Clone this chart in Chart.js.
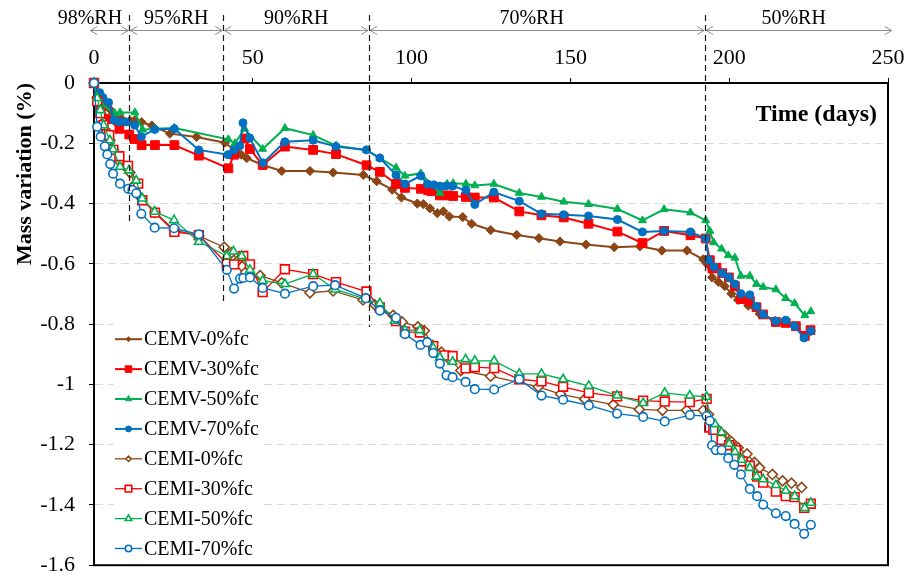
<!DOCTYPE html>
<html>
<head>
<meta charset="utf-8">
<title>Mass variation</title>
<script src="https://cdn.jsdelivr.net/npm/chart.js@4.4.1/dist/chart.umd.min.js"></script>
<style>
  html, body { margin: 0; padding: 0; background: #fff; }
  #wrap { width: 915px; height: 588px; }
</style>
</head>
<body>
<div id="wrap"><canvas id="massChart" width="915" height="588"></canvas></div>
<script>
// mass variation (%) against time (days), [day, value]
const cemv0 = [[0,0],[1.3,-0.038],[3,-0.06],[4.9,-0.086],[6,-0.102],[8.6,-0.118],[11.3,-0.125],[12.8,-0.124],[15,-0.13],[18.2,-0.141],[23.9,-0.168],[32.3,-0.179],[41.2,-0.198],[44.8,-0.227],[46.4,-0.238],[48.1,-0.249],[53.1,-0.272],[59.1,-0.292],[68,-0.292],[75.3,-0.297],[84.8,-0.305],[89,-0.326],[93.9,-0.354],[96.8,-0.38],[101.8,-0.4],[103.7,-0.402],[105.8,-0.416],[108.1,-0.432],[110,-0.426],[111.9,-0.443],[116.1,-0.445],[118.9,-0.467],[124.9,-0.488],[133.1,-0.504],[140.1,-0.515],[146.7,-0.526],[154.9,-0.536],[163.8,-0.545],[171.9,-0.542],[178.8,-0.556],[186.7,-0.556],[191.8,-0.585],[192.9,-0.599],[194.6,-0.645],[196.6,-0.66],[198.6,-0.674],[200.7,-0.699],[202.8,-0.72],[206,-0.739],[209.6,-0.766],[214.4,-0.789],[217.8,-0.793],[220.6,-0.807],[223.8,-0.843],[225.7,-0.823]];
const cemv30 = [[0,0],[1.9,-0.066],[4.5,-0.12],[8,-0.152],[11.1,-0.171],[12.7,-0.186],[15,-0.206],[19.2,-0.206],[25.3,-0.206],[33,-0.241],[42.3,-0.283],[44.1,-0.238],[47.5,-0.184],[49.1,-0.219],[53.1,-0.272],[60.1,-0.211],[69,-0.222],[76.2,-0.236],[85.8,-0.273],[90,-0.295],[95.1,-0.335],[97.9,-0.348],[102.9,-0.351],[105.2,-0.356],[106.3,-0.359],[108.9,-0.373],[111.5,-0.373],[113.1,-0.375],[117.1,-0.378],[119.9,-0.38],[125.9,-0.38],[133.9,-0.426],[140.9,-0.439],[147.9,-0.446],[155.7,-0.467],[164.8,-0.493],[172.7,-0.531],[179.5,-0.491],[187.8,-0.505],[192.6,-0.516],[193.9,-0.588],[194.7,-0.615],[196,-0.613],[197.8,-0.631],[199.9,-0.645],[201.8,-0.674],[203.7,-0.717],[206.5,-0.723],[208.6,-0.744],[210.7,-0.768],[214.7,-0.793],[217.8,-0.796],[221,-0.807],[223.8,-0.839],[225.6,-0.82]];
const cemv50 = [[0,0],[2.3,-0.07],[6.5,-0.1],[8.2,-0.098],[12.9,-0.098],[15.3,-0.155],[19.2,-0.152],[25.3,-0.149],[42.3,-0.187],[44.4,-0.2],[47.4,-0.152],[53.1,-0.219],[60.1,-0.15],[69,-0.173],[76.2,-0.208],[85.8,-0.223],[90,-0.249],[95.1,-0.281],[97.9,-0.308],[102.9,-0.3],[108.9,-0.365],[111.2,-0.335],[113.1,-0.333],[117.1,-0.335],[119.9,-0.34],[125.9,-0.335],[133.9,-0.365],[140.9,-0.378],[147.9,-0.394],[155.7,-0.402],[164.8,-0.418],[172.7,-0.456],[179.5,-0.419],[187.8,-0.43],[192.6,-0.456],[193.9,-0.491],[195.1,-0.529],[197.6,-0.55],[199.7,-0.572],[201.8,-0.58],[203.7,-0.64],[206.5,-0.64],[208.6,-0.667],[210.7,-0.677],[214.7,-0.685],[217.8,-0.714],[220.6,-0.731],[223.8,-0.771],[225.7,-0.758]];
const cemv70 = [[0,0],[1.8,-0.032],[2.8,-0.048],[4.6,-0.065],[6.3,-0.124],[8.1,-0.129],[10.2,-0.129],[12.8,-0.14],[14.9,-0.178],[19.1,-0.154],[25.3,-0.152],[33,-0.222],[42.2,-0.238],[44.1,-0.222],[45.9,-0.208],[46.9,-0.132],[49,-0.182],[53.2,-0.265],[60.1,-0.195],[69,-0.19],[76.2,-0.211],[85.8,-0.222],[90,-0.249],[95.1,-0.305],[97.9,-0.335],[102.9,-0.308],[105,-0.335],[107,-0.338],[108.9,-0.342],[110.8,-0.342],[112.9,-0.342],[117.1,-0.356],[119.9,-0.403],[125.9,-0.362],[133.9,-0.392],[140.9,-0.434],[147.9,-0.437],[155.7,-0.441],[164.8,-0.453],[172.7,-0.494],[179.5,-0.491],[187.8,-0.494],[192.6,-0.516],[193.6,-0.588],[195.2,-0.61],[197.8,-0.631],[199.9,-0.645],[201.8,-0.667],[203.7,-0.699],[206.5,-0.703],[208.6,-0.742],[210.7,-0.768],[214.7,-0.79],[217.8,-0.787],[220.6,-0.807],[223.6,-0.846],[225.7,-0.823]];
const cemi0 = [[0,0],[1,-0.05],[2,-0.09],[3,-0.13],[4,-0.16],[5,-0.19],[6,-0.22],[8,-0.26],[11.3,-0.297],[12.9,-0.335],[15,-0.383],[19.2,-0.429],[25.3,-0.488],[33,-0.507],[41,-0.545],[43.3,-0.563],[45.4,-0.588],[46.7,-0.609],[47.7,-0.628],[52.3,-0.639],[59.1,-0.663],[68,-0.696],[75.3,-0.69],[84.7,-0.72],[88.4,-0.736],[94.2,-0.771],[97,-0.793],[102,-0.809],[104,-0.822],[106.6,-0.871],[109.4,-0.893],[111.9,-0.917],[115.5,-0.954],[124.9,-0.973],[139.9,-1.008],[146.9,-1.032],[154.5,-1.049],[163.5,-1.067],[171.7,-1.083],[179,-1.086],[186.6,-1.086],[191.8,-1.086],[193.5,-1.1],[194.6,-1.13],[196.4,-1.15],[198.6,-1.17],[200.7,-1.19],[202.8,-1.21],[205.6,-1.231],[208,-1.259],[209.6,-1.277],[213.6,-1.299],[216.8,-1.32],[219.6,-1.328],[222.8,-1.342]];
const cemi30 = [[0,0],[1,-0.06],[2,-0.1],[3,-0.14],[4.8,-0.173],[6.1,-0.222],[8,-0.243],[10.7,-0.275],[13.9,-0.334],[15.2,-0.389],[19.2,-0.43],[25.3,-0.494],[33,-0.505],[41.8,-0.599],[44.1,-0.602],[47,-0.574],[49.1,-0.602],[53.1,-0.694],[60.1,-0.618],[69,-0.634],[76.2,-0.661],[85.8,-0.692],[90,-0.745],[95.1,-0.79],[97.9,-0.825],[102.6,-0.828],[106.8,-0.873],[110.5,-0.904],[112.9,-0.906],[117,-0.947],[119.9,-0.943],[126,-0.946],[133.9,-0.983],[140.9,-0.99],[147.7,-1.008],[155.8,-1.028],[164.7,-1.04],[172.9,-1.054],[179.7,-1.057],[187.6,-1.059],[192.9,-1.048],[193.7,-1.143],[195,-1.151],[197.6,-1.184],[200,-1.202],[202.1,-1.218],[204.2,-1.256],[206.5,-1.27],[208.8,-1.306],[210.7,-1.326],[214.7,-1.356],[217.8,-1.371],[220.6,-1.374],[223.6,-1.41],[225.7,-1.396]];
const cemi50 = [[0,0],[1,-0.05],[2,-0.09],[3,-0.14],[5,-0.19],[6,-0.22],[8.2,-0.278],[11,-0.29],[13.3,-0.324],[15.2,-0.383],[19.1,-0.427],[25.2,-0.455],[33,-0.527],[41.8,-0.574],[43.9,-0.559],[46.5,-0.574],[49.1,-0.62],[53.1,-0.656],[60.1,-0.667],[69,-0.634],[75.9,-0.685],[85.6,-0.717],[90,-0.731],[94.7,-0.789],[97.9,-0.82],[102.6,-0.82],[106.8,-0.879],[108.9,-0.911],[112.9,-0.925],[117,-0.917],[119.9,-0.922],[126,-0.922],[133.9,-0.965],[140.9,-0.965],[147.7,-0.983],[155.8,-1.005],[164.7,-1.037],[172.9,-1.062],[179.7,-1.028],[187.6,-1.037],[192.9,-1.041],[194.1,-1.121],[195.5,-1.132],[197.6,-1.159],[200,-1.197],[201.8,-1.224],[203.9,-1.25],[206.5,-1.277],[208.6,-1.306],[210.7,-1.315],[214.7,-1.334],[217.8,-1.353],[220.6,-1.371],[223.8,-1.41],[225.7,-1.393]];
const cemi70 = [[0,0],[1,-0.145],[2.1,-0.178],[3.4,-0.21],[4.2,-0.237],[5.1,-0.269],[6,-0.301],[8.2,-0.334],[10.8,-0.351],[12.1,-0.355],[13.3,-0.366],[14.9,-0.434],[19.1,-0.48],[25.2,-0.482],[33,-0.502],[41.8,-0.62],[44.1,-0.682],[46,-0.649],[47,-0.647],[49.1,-0.645],[53.1,-0.68],[60.1,-0.699],[69,-0.674],[75.9,-0.671],[85.6,-0.714],[90,-0.755],[95.1,-0.779],[97.9,-0.833],[102.8,-0.869],[104.9,-0.86],[106.8,-0.896],[108.9,-0.931],[111,-0.97],[112.9,-0.976],[117,-0.992],[119.9,-1.016],[126,-1.017],[133.9,-0.983],[140.9,-1.037],[147.7,-1.051],[155.8,-1.07],[164.7,-1.097],[172.9,-1.108],[179.7,-1.123],[187.6,-1.102],[192.9,-1.105],[193.9,-1.121],[194.6,-1.202],[195.8,-1.218],[197.6,-1.218],[199.7,-1.245],[201.6,-1.267],[203.7,-1.299],[206.5,-1.347],[208.8,-1.371],[210.7,-1.399],[214.7,-1.428],[217.8,-1.437],[220.6,-1.463],[223.6,-1.496],[225.7,-1.466]];

const seriesNames = ['CEMV-0%fc', 'CEMV-30%fc', 'CEMV-50%fc', 'CEMV-70%fc',
                     'CEMI-0%fc', 'CEMI-30%fc', 'CEMI-50%fc', 'CEMI-70%fc'];

// humidity steps: label, where the step begins (days), and how low its divider reaches
const rhLabels = ['98%RH', '95%RH', '90%RH', '70%RH', '50%RH'];
const rhStart = [-1.5, 11.1, 40.7, 86.6, 192.4];
const rhEnd = 251.5;
const rhDividerLow = [-0.47, -0.73, -0.81, -1.16];
const rhLabelAt = [-1.3, 25.9, 63.7, 137.8, 220.3];

const SERIF = "'Liberation Serif', 'Times New Roman', serif";
const BROWN = '#8c4616', RED = '#ff0000', GREEN = '#00b050', BLUE = '#0070c0';

function series(i, pts, color, style, filled, radius) {
  return {
    label: seriesNames[i],
    data: pts.map(p => ({ x: p[0], y: p[1] })),
    borderColor: color,
    backgroundColor: filled ? color : '#ffffff',
    pointBackgroundColor: filled ? color : '#ffffff',
    pointBorderColor: color,
    pointStyle: style,
    pointRadius: radius,
    pointBorderWidth: filled ? 1 : 1.6,
    borderWidth: filled ? 2 : 1.3,
    showLine: true,
    tension: 0,
    clip: false,
    order: -i            // later series sit on top
  };
}

const datasets = [
  series(0, cemv0, BROWN, 'rectRot', true, 4.6),
  series(1, cemv30, RED, 'rect', true, 6.2),
  series(2, cemv50, GREEN, 'triangle', true, 4.6),
  series(3, cemv70, BLUE, 'circle', true, 4),
  series(4, cemi0, BROWN, 'rectRot', false, 5),
  series(5, cemi30, RED, 'rect', false, 6.2),
  series(6, cemi50, GREEN, 'triangle', false, 5),
  series(7, cemi70, BLUE, 'circle', false, 4.3)
];

function drawMarker(ctx, style, r, x, y) {
  ctx.beginPath();
  if (style === 'circle') {
    ctx.arc(x, y, r, 0, Math.PI * 2);
  } else if (style === 'rect') {
    const s = r * Math.SQRT1_2;
    ctx.rect(x - s, y - s, 2 * s, 2 * s);
  } else if (style === 'rectRot') {
    const s = r * Math.SQRT1_2;
    ctx.moveTo(x - s, y); ctx.lineTo(x, y + s); ctx.lineTo(x + s, y); ctx.lineTo(x, y - s);
  } else if (style === 'triangle') {
    for (let k = 0; k < 3; k++) {
      const a = k * 2 * Math.PI / 3;
      const px = x + Math.sin(a) * r, py = y - Math.cos(a) * r;
      k ? ctx.lineTo(px, py) : ctx.moveTo(px, py);
    }
  }
  ctx.closePath();
  ctx.fill();
  ctx.stroke();
}

const extras = {
  id: 'extras',
  beforeDatasetsDraw(chart) {
    const { ctx, chartArea: a } = chart;
    ctx.save();
    ctx.strokeStyle = '#000';
    ctx.lineWidth = 2;
    ctx.strokeRect(a.left, a.top, a.right - a.left, a.bottom - a.top);
    ctx.restore();
  },
  afterDatasetsDraw(chart) {
    const { ctx, scales: { x, y } } = chart;
    // dashed dividers between humidity steps
    ctx.save();
    ctx.strokeStyle = '#1a1a1a';
    ctx.lineWidth = 1.2;
    ctx.setLineDash([6, 4]);
    rhStart.slice(1).forEach((d, i) => {
      const px = Math.round(x.getPixelForValue(d)) + 0.5;
      ctx.beginPath();
      ctx.moveTo(px, 15);
      ctx.lineTo(px, y.getPixelForValue(rhDividerLow[i]));
      ctx.stroke();
    });
    ctx.restore();
  },
  afterDraw(chart) {
    const { ctx, chartArea: a, scales: { x } } = chart;
    ctx.save();

    // double arrows and humidity labels above the axis
    ctx.strokeStyle = '#8c8c8c';
    ctx.lineWidth = 1;
    const ay = 30.5;
    rhLabels.forEach((lab, i) => {
      const x1 = x.getPixelForValue(rhStart[i]) + 1;
      const x2 = x.getPixelForValue(i < rhLabels.length - 1 ? rhStart[i + 1] : rhEnd) - 1;
      ctx.beginPath();
      ctx.moveTo(x1, ay); ctx.lineTo(x2, ay);
      ctx.moveTo(x1 + 7, ay - 4); ctx.lineTo(x1, ay); ctx.lineTo(x1 + 7, ay + 4);
      ctx.moveTo(x2 - 7, ay - 4); ctx.lineTo(x2, ay); ctx.lineTo(x2 - 7, ay + 4);
      ctx.stroke();
    });
    ctx.fillStyle = '#000';
    ctx.font = '20px ' + SERIF;
    ctx.textAlign = 'center';
    ctx.textBaseline = 'middle';
    rhLabels.forEach((lab, i) => ctx.fillText(lab, x.getPixelForValue(rhLabelAt[i]), 19));

    // axis caption inside the plot
    ctx.font = 'bold 24px ' + SERIF;
    ctx.textAlign = 'right';
    ctx.fillText('Time (days)', a.right - 11, 115);

    // legend block, bottom left
    const lx = a.left + 20, ly = a.bottom - 242;
    ctx.fillStyle = '#fff';
    ctx.fillRect(lx, ly, 145, 240);
    ctx.font = '20px ' + SERIF;
    ctx.textAlign = 'left';
    chart.data.datasets.forEach((ds, i) => {
      const ry = a.bottom - 226 + i * 29.9;
      ctx.strokeStyle = ds.borderColor;
      ctx.lineWidth = ds.borderWidth;
      ctx.beginPath();
      ctx.moveTo(lx + 1, ry); ctx.lineTo(lx + 28, ry);
      ctx.stroke();
      ctx.fillStyle = ds.pointBackgroundColor;
      ctx.lineWidth = ds.pointBorderWidth;
      drawMarker(ctx, ds.pointStyle, ds.pointRadius * 0.75, lx + 14.5, ry);
      ctx.fillStyle = '#000';
      ctx.fillText(ds.label, lx + 30, ry + 1);
    });
    ctx.restore();
  }
};

new Chart(document.getElementById('massChart'), {
  type: 'scatter',
  data: { datasets },
  options: {
    responsive: false,
    animation: false,
    layout: { padding: { left: 0, right: 27, top: 0, bottom: 10 } },
    plugins: { legend: { display: false }, tooltip: { enabled: false } },
    scales: {
      x: {
        type: 'linear',
        position: 'top',
        min: 0,
        max: 250,
        afterFit: s => { s.height = 83; },
        ticks: { stepSize: 50, color: '#000', padding: 7, font: { family: SERIF, size: 22 } },
        grid: { drawOnChartArea: false, tickLength: 5, tickColor: '#000' },
        border: { color: '#000', width: 2 }
      },
      y: {
        min: -1.6,
        max: 0,
        afterFit: s => { s.width = 94; },
        ticks: {
          stepSize: 0.2,
          color: '#000',
          padding: 14,
          font: { family: SERIF, size: 22, lineHeight: 0.8 },
          callback: v => String(+v.toFixed(1))
        },
        grid: { color: '#d9d9d9', lineWidth: 1, tickLength: 5, tickColor: '#000' },
        border: { color: '#000', width: 2, dash: [8, 5] },
        title: {
          display: true,
          text: 'Mass variation (%)',
          align: 'end',
          color: '#000',
          padding: { top: 12, bottom: 0 },
          font: { family: SERIF, size: 22, weight: 'bold' }
        }
      }
    }
  },
  plugins: [extras]
});
</script>
</body>
</html>
